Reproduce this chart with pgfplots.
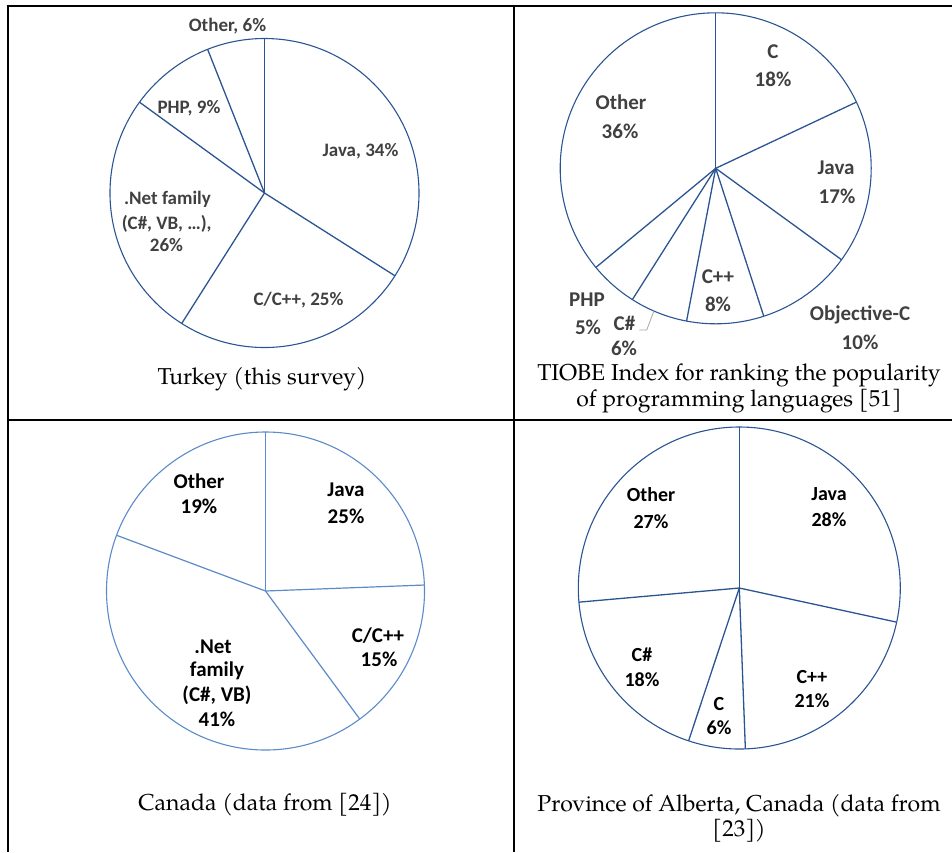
\documentclass[border=0pt]{standalone}
\usepackage{pgfplots}
\pgfplotsset{compat=1.18}
\usepgfplotslibrary{polar}
\usepackage{fontspec}
\newfontfamily\lab{Carlito}
\newfontfamily\capf{TeX Gyre Pagella}
\definecolor{dkb}{HTML}{2B5592}
\definecolor{ltb}{HTML}{5B8BC9}
\definecolor{lg}{HTML}{404040}
\definecolor{ldr}{HTML}{A6A6A6}
\pgfplotsset{
  pie/.style 2 args={
    scale only axis, width=#1, height=#1,
    xtick=\empty, ytick=\empty, ymin=0, ymax=1, grid=none,
    clip=false, anchor=center,
    x filter/.expression={90-3.6*x},
    x axis line style={draw=#2, line width=1.1pt},
    y axis line style={draw=none},
  },
}
\tikzset{
  lab/.style={anchor=base, inner sep=0pt},
}
\begin{document}
\begin{tikzpicture}
\useasboundingbox (0pt,0pt) rectangle (952pt,-852pt);
% ---- Turkey
\begin{polaraxis}[pie={309pt}{dkb}, at={(264.5pt,-193pt)}]
\addplot[dkb, line width=1.3pt, no marks] coordinates {(0,0) (0,1)};
\addplot[dkb, line width=1.3pt, no marks] coordinates {(34,0) (34,1)};
\addplot[dkb, line width=1.3pt, no marks] coordinates {(59,0) (59,1)};
\addplot[dkb, line width=1.3pt, no marks] coordinates {(85,0) (85,1)};
\addplot[dkb, line width=1.3pt, no marks] coordinates {(94,0) (94,1)};
\end{polaraxis}
% ---- TIOBE
\begin{polaraxis}[pie={311pt}{dkb}, at={(715.7pt,-168.3pt)}]
\addplot[dkb, line width=1.3pt, no marks] coordinates {(0,0) (0,1)};
\addplot[dkb, line width=1.3pt, no marks] coordinates {(18,0) (18,1)};
\addplot[dkb, line width=1.3pt, no marks] coordinates {(35,0) (35,1)};
\addplot[dkb, line width=1.3pt, no marks] coordinates {(45,0) (45,1)};
\addplot[dkb, line width=1.3pt, no marks] coordinates {(53,0) (53,1)};
\addplot[dkb, line width=1.3pt, no marks] coordinates {(59,0) (59,1)};
\addplot[dkb, line width=1.3pt, no marks] coordinates {(64,0) (64,1)};
\end{polaraxis}
% ---- Canada
\begin{polaraxis}[pie={318pt}{ltb}, at={(265.5pt,-591pt)}]
\addplot[ltb, line width=1.2pt, no marks] coordinates {(0,0) (0,1)};
\addplot[ltb, line width=1.2pt, no marks] coordinates {(24.4,0) (24.4,1)};
\addplot[ltb, line width=1.2pt, no marks] coordinates {(39.9,0) (39.9,1)};
\addplot[ltb, line width=1.2pt, no marks] coordinates {(80.7,0) (80.7,1)};
\end{polaraxis}
% ---- Alberta
\begin{polaraxis}[pie={322pt}{dkb}, at={(739.3pt,-588pt)}]
\addplot[dkb, line width=1.3pt, no marks] coordinates {(0,0) (0,1)};
\addplot[dkb, line width=1.3pt, no marks] coordinates {(28.4,0) (28.4,1)};
\addplot[dkb, line width=1.3pt, no marks] coordinates {(49.4,0) (49.4,1)};
\addplot[dkb, line width=1.3pt, no marks] coordinates {(55.1,0) (55.1,1)};
\addplot[dkb, line width=1.3pt, no marks] coordinates {(73.6,0) (73.6,1)};
\end{polaraxis}
% ---- table rules
\draw[line width=2pt] (7.5pt,-5pt) -- (7.5pt,-852pt);
\draw[line width=2pt] (6.5pt,-6pt) -- (952pt,-6pt);
\draw[line width=2pt] (6.5pt,-420pt) -- (952pt,-420pt);
\draw[line width=2pt] (514pt,-5pt) -- (514pt,-852pt);
% ---- Turkey labels
\begin{scope}[every node/.style={lab, text=lg, font=\lab\bfseries\fontsize{19}{23}\selectfont}]
\node at (227.5pt,-31pt) {Other, 6\%};
\node at (189pt,-113pt) {PHP, 9\%};
\node at (360.5pt,-156pt) {Java, 34\%};
\node at (298.5pt,-305pt) {C/C++, 25\%};
\node at (167.5pt,-204pt) {.Net family};
\node at (166.7pt,-229pt) {(C\#, VB, …),};
\node at (166.5pt,-251pt) {26\%};
\end{scope}
% ---- TIOBE labels
\begin{scope}[every node/.style={lab, text=lg, font=\lab\bfseries\fontsize{21}{25}\selectfont}]
\node at (773pt,-58.7pt) {C};
\node at (773pt,-86.7pt) {18\%};
\node at (836pt,-174.7pt) {Java};
\node at (837pt,-203.7pt) {17\%};
\node at (621pt,-109.7pt) {Other};
\node at (620pt,-138.7pt) {36\%};
\node at (860pt,-320.7pt) {Objective-C};
\node at (860pt,-349.7pt) {10\%};
\node at (718pt,-283.7pt) {C++};
\node at (718pt,-311.7pt) {8\%};
\node at (587pt,-306.7pt) {PHP};
\node at (588pt,-334.7pt) {5\%};
\node at (624.5pt,-330.7pt) {C\#};
\node at (624pt,-355.7pt) {6\%};
\end{scope}
\draw[ldr, line width=0.8pt] (639.3pt,-330pt) -- (646.7pt,-330pt) -- (654pt,-310.7pt);
% ---- Canada labels
\begin{scope}[every node/.style={lab, text=black, font=\lab\bfseries\fontsize{21}{25}\selectfont}]
\node at (346pt,-496.7pt) {Java};
\node at (346pt,-523.7pt) {25\%};
\node at (199pt,-488.7pt) {Other};
\node at (199pt,-513.7pt) {19\%};
\node at (378pt,-642.7pt) {C/C++};
\node at (379pt,-666.7pt) {15\%};
\node at (213pt,-653.7pt) {.Net};
\node at (217pt,-676.7pt) {family};
\node at (217pt,-701.7pt) {(C\#, VB)};
\node at (217pt,-726.7pt) {41\%};
\end{scope}
% ---- Alberta labels
\begin{scope}[every node/.style={lab, text=black, font=\lab\bfseries\fontsize{20}{24}\selectfont}]
\node at (651pt,-501.4pt) {Other};
\node at (651pt,-528.4pt) {27\%};
\node at (829pt,-500.4pt) {Java};
\node at (829pt,-526.4pt) {28\%};
\node at (812pt,-683.4pt) {C++};
\node at (812pt,-707.4pt) {21\%};
\node at (719pt,-710.4pt) {C};
\node at (719pt,-734.4pt) {6\%};
\node at (642pt,-661.4pt) {C\#};
\node at (642pt,-686.4pt) {18\%};
\end{scope}
% ---- captions
\begin{scope}[every node/.style={lab, text=black, font=\capf\fontsize{23}{27}\selectfont}]
\node at (262pt,-384pt) {Turkey (this survey)};
\node at (739pt,-380.7pt) {TIOBE Index for ranking the popularity};
\node at (739pt,-406.7pt) {of programming languages [51]};
\node at (265pt,-810pt) {Canada (data from [24])};
\node at (739pt,-811.7pt) {Province of Alberta, Canada (data from};
\node at (739pt,-836.5pt) {[23])};
\end{scope}
\end{tikzpicture}
\end{document}
